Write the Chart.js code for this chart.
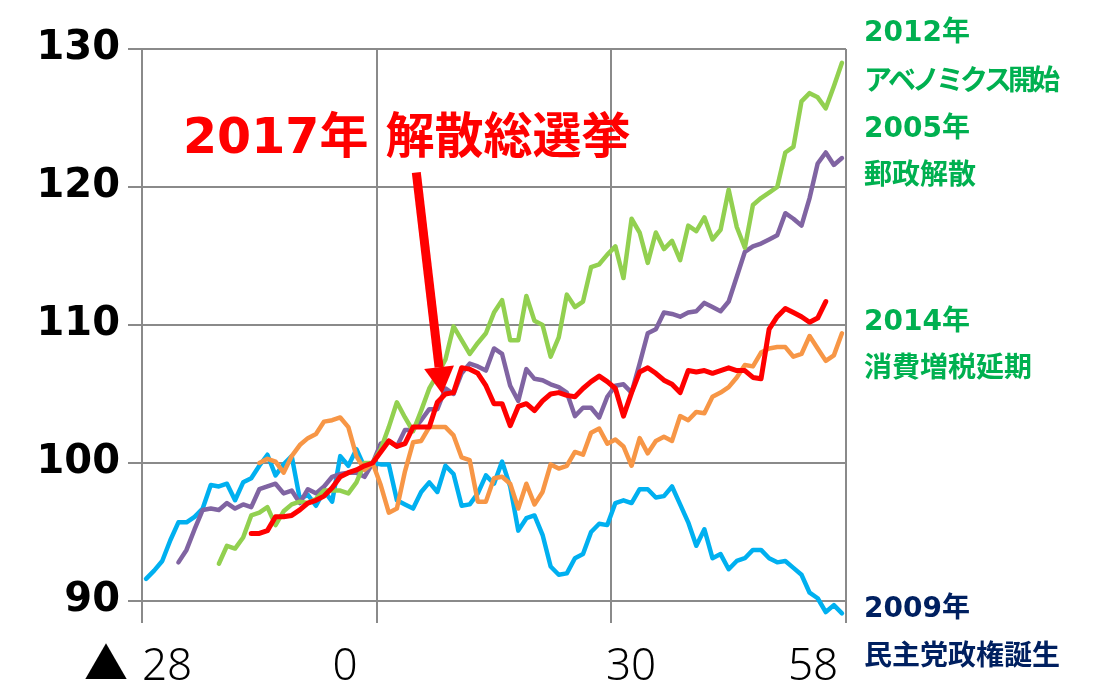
<!DOCTYPE html>
<html>
<head>
<meta charset="utf-8">
<script src="https://cdn.jsdelivr.net/npm/chart.js@4.4.1/dist/chart.umd.min.js"></script>
<style>
  html, body { margin: 0; padding: 0; background: #fff; }
</style>
</head>
<body>
<canvas id="chart" width="1094" height="695"></canvas>
<script>
// days relative to the dissolution (-28 .. 58)
const days = [];
for (let d = -28; d <= 58; d++) days.push(d);

// index (day 0 = 100), each series starts at its own day
const start2009 = 0;
const series2009 = [91.6, 92.2, 92.9, 94.4, 95.7, 95.7, 96.1, 96.7, 98.4, 98.3,
  98.5, 97.3, 98.6, 98.9, 99.8, 100.6, 99.1, 99.9, 100.5, 97.4,
  97.7, 96.9, 98.0, 97.2, 100.5, 99.8, 101.0, 99.7, 100.0, 99.9,
  99.9, 97.3, 97.0, 96.7, 97.9, 98.6, 97.9, 99.8, 99.2, 96.9,
  97.0, 97.8, 99.1, 98.5, 100.1, 98.3, 95.1, 96.0, 96.2, 94.8,
  92.5, 91.9, 92.0, 93.1, 93.4, 95.0, 95.6, 95.5, 97.1, 97.3,
  97.1, 98.1, 98.1, 97.5, 97.6, 98.3, 97.0, 95.7, 94.0, 95.2,
  93.1, 93.4, 92.3, 92.9, 93.1, 93.7, 93.7, 93.1, 92.8, 92.9,
  92.4, 91.9, 90.6, 90.2, 89.2, 89.7, 89.1];

const start2005 = 4;
const series2005 = [92.8, 93.7, 95.2, 96.6, 96.7, 96.6,
  97.1, 96.7, 97.0, 96.8, 98.1, 98.3, 98.5, 97.8, 98.0, 97.1,
  98.1, 97.8, 98.3, 99.0, 99.2, 99.3, 99.3, 99.0, 100.0, 101.4,
  101.6, 101.2, 102.4, 102.4, 103.1, 103.9, 103.9, 105.4, 105.0, 106.5,
  107.2, 107.0, 106.7, 108.3, 107.9, 105.6, 104.5, 106.8, 106.1, 106.0,
  105.7, 105.5, 105.1, 103.4, 104.0, 104.0, 103.3, 104.8, 105.6, 105.7,
  105.1, 107.2, 109.4, 109.7, 110.9, 110.8, 110.6, 110.9, 111.0, 111.6,
  111.3, 111.0, 111.7, 113.5, 115.3, 115.7, 115.9, 116.2, 116.5, 118.1,
  117.7, 117.2, 119.2, 121.7, 122.5, 121.6, 122.1];

const start2012 = 9;
const series2012 = [92.7,
  94.0, 93.8, 94.6, 96.2, 96.4, 96.8, 95.5, 96.5, 97.0, 97.2,
  97.1, 97.4, 98.0, 98.0, 98.0, 97.8, 98.6, 100.0, 100.0, 101.0,
  102.6, 104.4, 103.3, 102.3, 103.8, 105.4, 106.4, 107.5, 109.9, 108.9,
  107.9, 108.7, 109.4, 110.9, 111.8, 108.9, 108.9, 112.1, 110.3, 110.0,
  107.7, 109.1, 112.2, 111.3, 111.7, 114.2, 114.4, 115.1, 115.7, 113.4,
  117.7, 116.7, 114.5, 116.7, 115.5, 116.1, 114.7, 117.2, 116.8, 117.8,
  116.2, 116.9, 119.8, 117.1, 115.6, 118.7, 119.2, 119.6, 120.0, 122.5,
  122.9, 126.2, 126.8, 126.5, 125.7, 127.3, 129.0];

const start2014 = 14;
const series2014 = [100.0, 100.3, 100.1, 99.3, 100.5, 101.3,
  101.8, 102.1, 103.0, 103.1, 103.3, 102.6, 100.5, 99.5, 100.0, 98.4,
  96.4, 96.7, 99.4, 101.5, 101.6, 102.6, 102.6, 102.6, 102.0, 100.4,
  100.2, 97.2, 97.2, 98.9, 99.0, 98.5, 96.7, 98.5, 97.0, 97.9,
  99.9, 99.6, 99.8, 100.8, 100.6, 102.2, 102.5, 101.4, 101.7, 101.2,
  99.8, 101.8, 100.7, 101.6, 101.9, 101.6, 103.4, 103.1, 103.7, 103.6,
  104.8, 105.1, 105.5, 106.2, 107.1, 107.0, 108.0, 108.3, 108.4, 108.4,
  107.7, 107.9, 109.2, 108.3, 107.4, 107.8, 109.4];

const start2017 = 13;
const series2017 = [94.9, 94.9, 95.1, 96.1, 96.1, 96.2, 96.6,
  97.1, 97.3, 97.6, 98.2, 99.0, 99.3, 99.5, 99.8, 100.0, 100.8,
  101.6, 101.2, 101.4, 102.6, 102.6, 102.6, 104.4, 105.0, 105.1, 106.9,
  106.8, 106.5, 105.6, 104.3, 104.3, 102.7, 104.1, 104.3, 103.8, 104.5,
  105.0, 105.1, 104.9, 104.8, 105.4, 105.9, 106.3, 105.9, 105.4, 103.4,
  105.1, 106.6, 106.9, 106.5, 106.0, 105.7, 105.1, 106.7, 106.6, 106.7,
  106.5, 106.7, 106.9, 106.7, 106.7, 106.2, 106.1, 109.7, 110.6, 111.2,
  110.9, 110.6, 110.2, 110.5, 111.7];

const yTicks = [90, 100, 110, 120, 130];

const blue = '#00B0F0';
const purple = '#8064A2';
const green = '#92D050';
const orange = '#F79646';
const red = '#FF0000';
const gridGrey = '#8A8A8A';

function pad(startIdx, vals) {
  return new Array(startIdx).fill(null).concat(vals);
}

function line(label, vals, color, width, order) {
  return {
    label: label,
    data: vals,
    borderColor: color,
    backgroundColor: color,
    borderWidth: width,
    pointRadius: 0,
    tension: 0,
    borderJoinStyle: 'round',
    borderCapStyle: 'round',
    spanGaps: false,
    clip: false,
    order: order
  };
}

// text and arrow drawn over the chart
const notes = {
  id: 'notes',
  afterDraw(chart) {
    const ctx = chart.ctx;
    const xs = chart.scales.x;
    const ys = chart.scales.y;
    const area = chart.chartArea;
    ctx.save();

    // arrow pointing at the 2017 line
    const x0 = xs.getPixelForValue(33.4), y0 = ys.getPixelForValue(121.05);
    const x1 = xs.getPixelForValue(36.6), y1 = ys.getPixelForValue(105.0);
    const ang = Math.atan2(y1 - y0, x1 - x0);
    const headLen = 27, headHalf = 15;
    const bx = x1 - headLen * Math.cos(ang), by = y1 - headLen * Math.sin(ang);
    ctx.strokeStyle = red;
    ctx.lineWidth = 9;
    ctx.beginPath();
    ctx.moveTo(x0, y0);
    ctx.lineTo(bx, by);
    ctx.stroke();
    ctx.fillStyle = red;
    ctx.beginPath();
    ctx.moveTo(x1, y1);
    ctx.lineTo(bx + headHalf * Math.sin(ang), by - headHalf * Math.cos(ang));
    ctx.lineTo(bx - headHalf * Math.sin(ang), by + headHalf * Math.cos(ang));
    ctx.closePath();
    ctx.fill();

    // title
    ctx.fillStyle = red;
    ctx.font = 'bold 49px "DejaVu Sans", "Noto Sans CJK JP"';
    ctx.textAlign = 'left';
    ctx.textBaseline = 'alphabetic';
    ctx.fillText('2017年 解散総選挙', 183, 153);

    // right side labels
    const rx = area.right + 18;
    ctx.font = 'bold 28px "DejaVu Sans", "Noto Sans CJK JP"';
    ctx.textBaseline = 'middle';
    ctx.fillStyle = '#00B050';
    ctx.fillText('2012年', rx, 34);
    ctx.letterSpacing = '-4px';
    ctx.fillText('アベノミクス開始', rx, 83);
    ctx.letterSpacing = '0px';
    ctx.fillText('2005年', rx, 130);
    ctx.fillText('郵政解散', rx, 177);
    ctx.fillText('2014年', rx, 323);
    ctx.fillText('消費増税延期', rx, 370);
    ctx.fillStyle = '#002060';
    ctx.fillText('2009年', rx, 610);
    ctx.fillText('民主党政権誕生', rx, 658);

    // x labels
    ctx.fillStyle = '#000';
    ctx.font = '300 44px "Noto Sans", "Noto Sans CJK JP"';
    ctx.textBaseline = 'alphabetic';
    ctx.textAlign = 'center';
    const by2 = 680;
    ctx.fillText('▲', 106, by2);
    ctx.fillText('28', 167, by2);
    ctx.fillText('0', 345, by2);
    ctx.fillText('30', 631, by2);
    ctx.fillText('58', 813, by2);
    ctx.restore();
  }
};

const chart = new Chart(document.getElementById('chart'), {
  type: 'line',
  data: {
    labels: days,
    datasets: [
      line('2017年', pad(start2017, series2017), red, 5, 0),
      line('2014年', pad(start2014, series2014), orange, 4.5, 1),
      line('2012年', pad(start2012, series2012), green, 4.5, 2),
      line('2005年', pad(start2005, series2005), purple, 4.5, 3),
      line('2009年', pad(start2009, series2009), blue, 4.5, 4)
    ]
  },
  options: {
    responsive: false,
    animation: false,
    layout: { padding: { top: 49, right: 248, left: 0, bottom: 0 } },
    plugins: {
      legend: { display: false },
      tooltip: { enabled: false }
    },
    scales: {
      x: {
        type: 'category',
        offset: true,
        grid: {
          offset: true,
          lineWidth: 2,
          tickLength: 22,
          color: (c) => (c.type !== 'tick' || c.index % 29 === 0) ? gridGrey : 'rgba(0,0,0,0)'
        },
        border: { display: false },
        ticks: { display: false, autoSkip: false },
        afterFit: (s) => { s.height = 94; }
      },
      y: {
        min: yTicks[0],
        max: yTicks[yTicks.length - 1],
        afterBuildTicks: (s) => { s.ticks = yTicks.map(v => ({ value: v })); },
        ticks: {
          color: '#000',
          padding: 8,
          font: { family: '"DejaVu Sans"', size: 40, weight: 'bold' }
        },
        grid: { color: gridGrey, lineWidth: 2, tickLength: 14 },
        border: { color: gridGrey, width: 2 },
        afterFit: (s) => { s.width = 142; }
      }
    }
  },
  plugins: [notes]
});
</script>
</body>
</html>
